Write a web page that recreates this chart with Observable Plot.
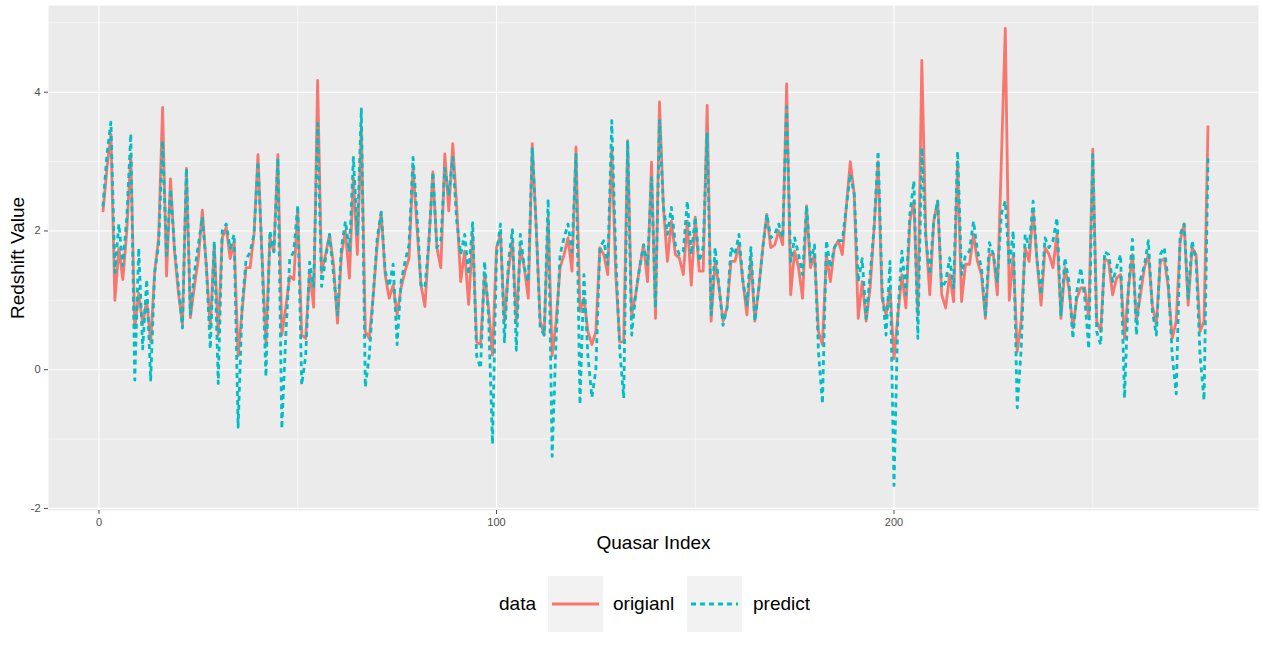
<!DOCTYPE html>
<html><head><meta charset="utf-8">
<script src="https://cdn.jsdelivr.net/npm/d3@7"></script>
<script src="https://cdn.jsdelivr.net/npm/@observablehq/plot@0.6"></script>
<style>
body{margin:0;background:#fff;font-family:"Liberation Sans",Arial,sans-serif;}
#wrap{position:relative;width:1263px;height:645px;overflow:hidden;}
#legend{position:absolute;left:0;top:576px;width:1263px;height:56px;}
.lt{position:absolute;top:0;height:56px;line-height:56px;font-size:19px;color:#000;white-space:nowrap;}
.key{position:absolute;top:0;width:55px;height:56px;background:#F2F2F2;}
.key svg{display:block;}
</style></head><body><div id="wrap"><div id="chart"></div><div id="legend"></div></div>
<script>
const seriesNames = ["origianl", "predict"];
const seriesColors = ["#F8766D", "#00BFC4"];
const xTicks = [0, 100, 200];
const xMinorTicks = [50, 150, 250];
const yTicks = [-2, 0, 2, 4];
const yMinorTicks = [-1, 1, 3, 5];
const quasarIndex = d3.range(1, 280);

const original = [
2.27, 2.9, 3.4, 1.0, 1.75, 1.3, 2.0, 3.1, 0.6, 1.1,
0.65, 1.0, 0.4, 1.4, 1.9, 3.78, 1.35, 2.75, 1.7, 1.1,
0.65, 2.9, 0.75, 1.2, 1.6, 2.3, 1.5, 0.6, 1.8, 0.5,
1.9, 2.05, 1.6, 1.85, 0.2, 0.85, 1.47, 1.47, 1.95, 3.1,
1.66, 0.38, 1.9, 1.7, 3.1, 0.5, 0.9, 1.35, 1.3, 2.3,
0.5, 0.45, 1.42, 0.9, 4.17, 1.4, 1.66, 1.95, 1.52, 0.67,
1.66, 2.0, 1.32, 2.77, 1.66, 3.5, 0.55, 0.45, 1.08, 1.8,
2.27, 1.37, 1.03, 1.22, 0.79, 1.18, 1.42, 1.61, 2.92, 2.05,
1.22, 0.91, 1.85, 2.85, 1.76, 1.47, 3.11, 2.29, 3.26, 2.34,
1.27, 1.71, 0.94, 1.95, 0.4, 0.36, 1.37, 0.89, 0.21, 1.76,
1.95, 0.7, 1.42, 1.86, 0.7, 1.76, 1.47, 1.03, 3.26, 2.05,
0.7, 0.5, 2.2, 0.2, 0.7, 1.47, 1.66, 1.9, 1.42, 3.21,
0.84, 1.03, 0.55, 0.36, 0.55, 1.76, 1.66, 1.37, 3.2, 1.37,
0.4, 0.4, 3.3, 0.79, 1.08, 1.47, 1.8, 1.27, 2.99, 0.74,
3.86, 2.34, 1.56, 2.14, 1.66, 1.61, 1.37, 2.14, 1.22, 2.2,
1.42, 1.42, 3.81, 0.7, 1.56, 1.18, 0.7, 0.89, 1.56, 1.56,
1.8, 1.27, 0.79, 1.61, 0.7, 1.18, 1.76, 2.24, 1.76, 1.8,
2.0, 1.8, 4.12, 1.08, 1.71, 1.47, 1.03, 2.36, 1.47, 1.66,
0.55, 0.36, 1.66, 1.27, 1.76, 1.86, 1.66, 2.34, 3.0, 2.53,
0.74, 1.27, 0.7, 1.18, 2.05, 3.0, 1.03, 0.79, 1.18, 0.16,
0.79, 1.37, 0.89, 2.14, 2.43, 0.79, 4.46, 1.95, 1.08, 2.14,
2.43, 1.08, 0.89, 1.37, 0.98, 3.0, 0.98, 1.52, 1.52, 1.95,
1.56, 1.37, 0.74, 1.66, 1.66, 1.08, 3.0, 4.92, 1.0, 1.66,
0.26, 0.7, 1.76, 1.56, 2.3, 1.56, 0.93, 1.76, 1.66, 1.47,
1.95, 0.74, 1.47, 1.18, 0.6, 1.03, 1.18, 1.18, 0.75, 3.18,
0.7, 0.55, 1.6, 1.56, 1.08, 1.32, 1.37, 0.45, 1.18, 1.66,
0.7, 1.08, 1.47, 1.66, 0.93, 0.64, 1.56, 1.6, 1.18, 0.45,
0.7, 1.86, 2.1, 0.93, 1.76, 1.66, 0.55, 0.7, 3.52
];

const predict = [
2.35, 3.1, 3.57, 1.4, 2.1, 1.5, 2.2, 3.4, -0.15, 1.75,
0.3, 1.3, -0.15, 1.4, 1.8, 3.3, 1.65, 2.6, 1.75, 1.2,
0.6, 2.9, 0.8, 1.4, 1.8, 2.2, 1.5, 0.3, 1.85, -0.2,
2.0, 2.1, 1.75, 1.95, -0.83, 0.9, 1.59, 1.69, 1.95, 3.0,
1.66, -0.1, 2.0, 1.7, 3.05, -0.85, 0.5, 1.6, 1.7, 2.37,
-0.22, 0.2, 1.55, 1.2, 3.55, 1.2, 1.6, 1.95, 1.37, 0.79,
1.76, 2.14, 1.7, 3.06, 1.95, 3.76, -0.25, 0.2, 1.08, 1.9,
2.27, 1.42, 1.2, 1.52, 0.36, 1.27, 1.56, 1.8, 3.06, 2.24,
1.22, 1.18, 1.85, 2.85, 1.76, 1.86, 2.9, 2.53, 3.06, 2.14,
1.66, 1.95, 1.37, 2.12, 0.2, 0.02, 1.56, 0.79, -1.07, 1.66,
2.1, 0.4, 1.55, 2.02, 0.28, 1.95, 1.47, 1.27, 3.2, 2.05,
0.6, 0.5, 2.46, -1.25, 0.45, 1.66, 1.9, 2.1, 1.7, 3.1,
-0.5, 1.37, 0.2, -0.4, 0.0, 1.76, 1.86, 1.52, 3.59, 1.66,
0.3, -0.41, 3.3, 0.5, 1.08, 1.47, 1.8, 1.52, 2.77, 0.89,
3.59, 2.34, 1.95, 2.34, 1.8, 1.66, 1.71, 2.43, 1.66, 2.2,
1.56, 1.76, 3.4, 0.79, 1.76, 1.18, 0.64, 0.89, 1.76, 1.66,
1.95, 1.27, 0.93, 1.76, 0.7, 1.18, 1.76, 2.24, 1.9, 1.95,
2.1, 1.9, 3.79, 1.56, 1.9, 1.66, 1.37, 2.36, 1.56, 1.8,
0.26, -0.49, 1.86, 1.47, 1.76, 1.86, 1.86, 2.34, 2.82, 2.53,
1.27, 1.6, 0.74, 1.37, 2.05, 3.15, 1.18, 0.5, 1.56, -1.67,
0.84, 1.71, 1.08, 2.24, 2.72, 0.45, 3.2, 1.9, 1.37, 2.14,
2.43, 1.18, 1.27, 1.61, 1.18, 3.15, 1.37, 1.66, 1.71, 2.14,
1.71, 1.47, 0.79, 1.83, 1.66, 1.27, 2.24, 2.43, 1.5, 2.0,
-0.55, 0.3, 1.95, 1.76, 2.43, 1.56, 1.08, 1.9, 1.76, 1.86,
2.19, 0.79, 1.61, 1.27, 0.45, 1.13, 1.47, 1.03, 0.3, 3.1,
0.55, 0.36, 1.7, 1.66, 1.27, 1.47, 1.66, -0.41, 1.2, 1.88,
0.5, 1.3, 1.5, 1.86, 0.84, 0.5, 1.66, 1.76, 1.27, 0.2,
-0.35, 1.95, 2.1, 1.03, 1.86, 1.56, 0.2, -0.44, 3.1
];

const origRows = quasarIndex.map((q, k) => ({q, v: original[k]}));
const predRows = quasarIndex.map((q, k) => ({q, v: predict[k]}));
const FONT = '"Liberation Sans", Arial, sans-serif';

const chart = Plot.plot({
  width: 1263, height: 560,
  marginLeft: 48, marginRight: 5, marginTop: 5, marginBottom: 50,
  x: {domain: [-12.7, 291.7]},
  y: {domain: [-2.03, 5.25]},
  style: {fontFamily: FONT, background: "white", overflow: "visible"},
  marks: [
    Plot.frame({fill: "#EBEBEB", stroke: "none"}),
    Plot.ruleX(xMinorTicks, {stroke: "white", strokeWidth: 0.55}),
    Plot.ruleY(yMinorTicks.filter(v => v < 5.25), {stroke: "white", strokeWidth: 0.55}),
    Plot.ruleX(xTicks, {stroke: "white", strokeWidth: 1.1}),
    Plot.ruleY(yTicks, {stroke: "white", strokeWidth: 1.1}),
    Plot.line(origRows, {x: "q", y: "v", stroke: seriesColors[0], strokeWidth: 2.8, strokeLinecap: "butt", strokeLinejoin: "round"}),
    Plot.line(predRows, {x: "q", y: "v", stroke: seriesColors[1], strokeWidth: 2.8, strokeDasharray: "5,4", strokeLinecap: "butt", strokeLinejoin: "round"}),
    Plot.axisX(xTicks, {tickSize: 4, tickPadding: 4, fontSize: 11, color: "#4D4D4D", label: null, tickFormat: d => String(d)}),
    Plot.axisY(yTicks, {tickSize: 4, tickPadding: 4, fontSize: 11, color: "#4D4D4D", label: null, tickFormat: d => String(d)}),
    Plot.text(["Quasar Index"], {text: d => d, frameAnchor: "bottom", lineAnchor: "middle", dy: 32, fontSize: 19, fill: "black"}),
    Plot.text(["Redshift Value"], {text: d => d, frameAnchor: "left", textAnchor: "middle", lineAnchor: "middle", dx: -31, rotate: -90, fontSize: 19, fill: "black"})
  ]
});
document.getElementById("chart").appendChild(chart);

// legend
const legend = document.getElementById("legend");
function addText(t, left) {
  const s = document.createElement("div");
  s.className = "lt"; s.style.left = left + "px"; s.textContent = t;
  legend.appendChild(s);
}
function addKey(left, color, dashed) {
  const k = document.createElement("div");
  k.className = "key"; k.style.left = left + "px";
  k.innerHTML = `<svg width="55" height="56"><line x1="4" x2="51" y1="28" y2="28" stroke="${color}" stroke-width="2.8" ${dashed ? 'stroke-dasharray="5,4"' : ''}/></svg>`;
  legend.appendChild(k);
}
addText("data", 499);
addKey(548, seriesColors[0], false);
addText(seriesNames[0], 613);
addKey(687, seriesColors[1], true);
addText(seriesNames[1], 753);
</script></body></html>
